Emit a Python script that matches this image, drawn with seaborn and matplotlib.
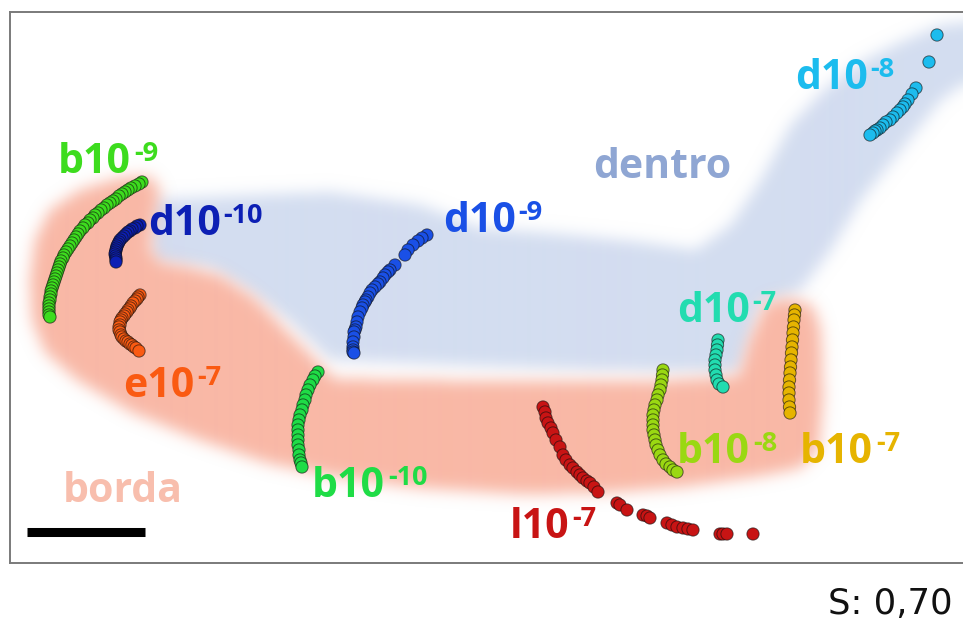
import numpy as np
import pandas as pd
import matplotlib
matplotlib.use("Agg")
import matplotlib.pyplot as plt
from matplotlib.path import Path
import seaborn as sns

# ---------------- trajectories (image-plane coordinates, y grows downward) ----------------
series = ["b10-9", "d10-10", "e10-7", "d10-9", "b10-10",
          "l10-7", "b10-8", "d10-7", "b10-7", "d10-8"]

b9_x = [142, 139, 135, 131, 128, 125, 122, 119, 116, 113, 110, 107, 104, 101, 98, 95,
        93, 90, 88, 85, 83, 80, 78, 76, 74, 72, 70, 68, 66, 64, 63, 61, 60, 59, 58, 57,
        56, 55, 54, 53, 52, 51, 51, 50, 50, 49, 49, 49, 49, 49, 50]
b9_y = [182, 184, 186, 188, 190, 192, 194, 196, 199, 201, 203, 205, 208, 210, 213, 215,
        218, 220, 223, 225, 228, 231, 234, 237, 240, 243, 246, 249, 252, 255, 258, 261,
        264, 267, 270, 273, 276, 279, 282, 285, 288, 291, 294, 297, 300, 303, 306, 309,
        312, 315, 317]

d10_x = [140, 137, 135, 132, 130, 128, 126, 124, 122, 120, 119, 118, 117, 116.5, 116,
         115.5, 115, 115.5, 116, 116, 116]
d10_y = [225, 226, 228, 229, 231, 232, 234, 236, 238, 240, 242, 244, 246, 248, 250,
         252, 254, 256, 258, 260, 262]

e7_x = [140, 138, 137, 135, 133, 131, 130, 128, 127, 125, 124, 122, 121, 120, 120, 119,
        119, 120, 121, 122, 124, 126, 128, 130, 132, 134, 136, 139]
e7_y = [295, 297, 299, 301, 303, 306, 308, 310, 312, 314, 316, 318, 320, 322, 325, 327,
        330, 332, 335, 337, 339, 341, 342, 344, 345, 347, 348, 351]

d9_x = [427, 422, 418, 413, 408, 405, 395, 390, 388, 385, 383, 380, 378, 375, 372, 370,
        368, 366, 365, 363, 362, 360, 358, 357, 356, 355, 354, 354, 353, 353, 353, 353, 354]
d9_y = [235, 238, 241, 245, 250, 255, 265, 270, 272, 275, 278, 282, 284, 287, 290, 293,
        297, 300, 302, 305, 308, 312, 317, 322, 327, 330, 332, 337, 342, 347, 350, 352, 353]

b10_x = [318, 315, 313, 310, 308, 306, 305, 303, 302, 300, 299, 298, 298, 298, 298,
         298, 299, 299, 300, 301, 302]
b10_y = [372, 376, 380, 385, 390, 395, 400, 405, 410, 415, 420, 425, 430, 435, 440,
         445, 450, 455, 460, 463, 467]

l7_x = [543, 545, 546, 548, 551, 553, 556, 560, 563, 566, 570, 573, 577, 580, 583, 587,
        590, 594, 598, 617, 620, 627, 643, 647, 650, 667, 672, 677, 683, 688, 693, 720,
        723, 727, 753]
l7_y = [407, 412, 418, 423, 428, 433, 440, 447, 455, 460, 465, 468, 472, 475, 478, 481,
        483, 487, 492, 503, 505, 510, 515, 516, 518, 523, 525, 527, 528, 529, 530, 534,
        534, 534, 534]

b8_x = [663, 662.5, 662, 661, 660, 658, 657, 655, 654, 653, 653, 653, 653, 654, 655,
        656, 658, 660, 663, 666, 670, 673, 677]
b8_y = [370, 375, 380, 385, 390, 395, 400, 405, 410, 415, 420, 425, 430, 435, 440,
        445, 450, 455, 460, 464, 467, 470, 472]

d7_x = [718, 717.5, 717, 716, 715, 715, 715, 716, 717, 719, 723]
d7_y = [340, 345, 350, 355, 360, 365, 370, 375, 380, 384, 387]

b7_x = [795, 794.5, 794, 793.5, 793, 792.5, 792, 791.5, 791, 790.5, 790, 789.5, 789,
        789, 789, 789.5, 790]
b7_y = [310, 315, 320, 327, 333, 340, 347, 353, 360, 367, 373, 380, 387, 393, 400,
        407, 413]

d8_x = [937, 929, 916, 912, 908, 905, 903, 900, 897, 893, 890, 886, 883, 880, 877, 875,
        873, 870]
d8_y = [35, 62, 88, 94, 100, 104, 107, 110, 113, 117, 120, 122, 125, 128, 130, 131,
        133, 135]

xs_all = [b9_x, d10_x, e7_x, d9_x, b10_x, l7_x, b8_x, d7_x, b7_x, d8_x]
ys_all = [b9_y, d10_y, e7_y, d9_y, b10_y, l7_y, b8_y, d7_y, b7_y, d8_y]

label_base = ["b10", "d10", "e10", "d10", "b10", "l10", "b10", "d10", "b10", "d10"]
label_exp = ["-9", "-10", "-7", "-9", "-10", "-7", "-8", "-7", "-7", "-8"]

colors = ["#3ddc1e", "#0c1fb4", "#fa5a12", "#1a50e6", "#1fdc46",
          "#c81414", "#9ad812", "#22dcb0", "#e6b400", "#1cbcee"]

regions = ["dentro", "borda"]
region_colors = ["#d3ddf0", "#f9b8a6"]
region_text_colors = ["#8fa6d3", "#f8bead"]

score_text = "S: 0,70"

df = pd.DataFrame({
    "x": np.concatenate(xs_all),
    "y": np.concatenate(ys_all),
    "series": np.repeat(series, [len(v) for v in xs_all]),
})
palette = dict(zip(series, colors))

# ---------------- figure ----------------
sns.set_style("white")
plt.rcParams["font.family"] = ["Open Sans", "DejaVu Sans"]

W, H = 963, 620
fig = plt.figure(figsize=(W / 100, H / 100), dpi=100)
ax = fig.add_axes([10 / W, 57 / H, 953 / W, 551 / H])
ax.set_xlim(10, 963)
ax.set_ylim(563, 12)
ax.set_xticks([])
ax.set_yticks([])
for side in ["top", "left", "bottom"]:
    ax.spines[side].set_color("#7a7a7a")
    ax.spines[side].set_linewidth(1.4)
ax.spines["right"].set_visible(False)

# soft-edged background zones
outlines = {
    "dentro": [(150, 200), (250, 195), (330, 192), (420, 205), (480, 228), (560, 234),
               (640, 242), (695, 250), (730, 225), (760, 180), (790, 125), (825, 88),
               (860, 62), (900, 42), (940, 25), (968, 22), (968, 80), (940, 100),
               (900, 150), (860, 200), (830, 250), (800, 290), (760, 305), (740, 372),
               (600, 370), (480, 366), (330, 360), (290, 322), (250, 292), (210, 268),
               (150, 262)],
    "borda": [(150, 176), (120, 178), (80, 190), (50, 210), (35, 240), (30, 280),
              (32, 320), (45, 352), (77, 380), (133, 413), (200, 440), (267, 463),
              (330, 476), (420, 488), (520, 494), (600, 493), (680, 487), (760, 476),
              (800, 468), (818, 448), (822, 400), (820, 330), (812, 306), (790, 298),
              (765, 302), (748, 340), (738, 376), (650, 381), (480, 381), (335, 379),
              (300, 345), (255, 298), (220, 275), (185, 266), (160, 262), (150, 248),
              (155, 220), (160, 190)],
}

gx = np.arange(10, 964) + 0.5
gy = np.arange(12, 564) + 0.5
GX, GY = np.meshgrid(gx, gy)
pts = np.column_stack([GX.ravel(), GY.ravel()])


def soft_mask(outline, sigma):
    inside = Path(outline).contains_points(pts).reshape(GX.shape).astype(float)
    r = int(3 * sigma)
    k = np.exp(-0.5 * (np.arange(-r, r + 1) / sigma) ** 2)
    k /= k.sum()
    h, w = inside.shape
    pad = np.pad(inside, r, mode="edge")
    tmp = sum(k[i] * pad[:, i:i + w] for i in range(2 * r + 1))
    return sum(k[i] * tmp[i:i + h, :] for i in range(2 * r + 1))


for name, col in zip(regions, region_colors):
    m = soft_mask(outlines[name], 7.5)
    rgba = np.zeros(m.shape + (4,))
    rgba[..., :3] = matplotlib.colors.to_rgb(col)
    rgba[..., 3] = m
    ax.imshow(rgba, extent=(10, 964, 564, 12), origin="upper",
              interpolation="bilinear", aspect="auto", zorder=1)

# trajectories
sns.scatterplot(data=df, x="x", y="y", hue="series", palette=palette, s=78,
                edgecolor=(0.05, 0.05, 0.05, 0.6), linewidth=0.7, legend=False,
                ax=ax, zorder=3)
ax.set_xlabel("")
ax.set_ylabel("")
ax.set_xlim(10, 963)
ax.set_ylim(563, 12)

# trajectory labels (left edge, baseline)
label_pos = [(58, 173), (148, 235), (123, 397), (443, 232), (312, 497),
             (510, 538), (677, 463), (677, 322), (800, 463), (795, 89)]


def sup_label(x, y, base, exp, color):
    t = ax.text(x, y, base, color=color, fontsize=29.5, fontweight="bold",
                ha="left", va="baseline", zorder=4)
    ax.annotate(exp, xy=(1, 1), xycoords=t, xytext=(2, 1),
                textcoords="offset points", color=color, fontsize=19.5,
                fontweight="bold", ha="left", va="top", zorder=4)


for (x, y), b, e, c in zip(label_pos, label_base, label_exp, colors):
    sup_label(x, y, b, e, c)

# zone labels
ax.text(593, 178, regions[0], color=region_text_colors[0], fontsize=29.5,
        fontweight="bold", ha="left", va="baseline", zorder=4)
ax.text(63, 502, regions[1], color=region_text_colors[1], fontsize=29.5,
        fontweight="bold", ha="left", va="baseline", zorder=4)

# scale bar
ax.plot([27, 145], [532, 532], color="black", lw=6.5, solid_capstyle="butt", zorder=4)

fig.text(828 / W, 6 / H, score_text, fontsize=25.5, family="DejaVu Sans",
         color="#111111", ha="left", va="baseline")

fig.savefig("out.png", dpi=100)
